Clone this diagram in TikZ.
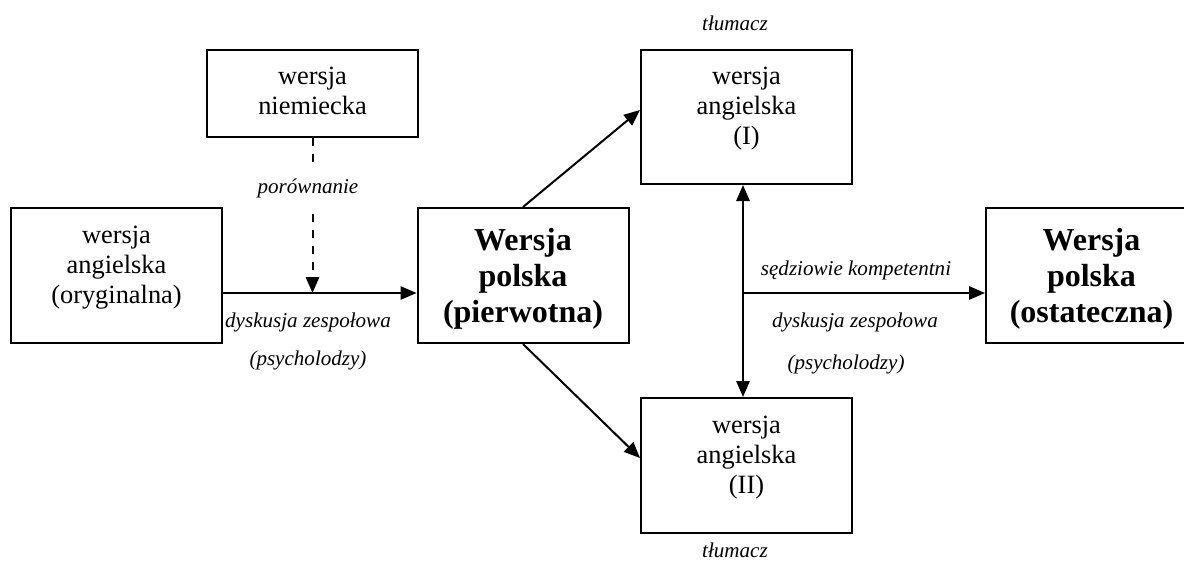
\documentclass[tikz,border=0pt]{standalone}
\usepackage{fontspec}
\setmainfont{Liberation Serif}
\usetikzlibrary{arrows.meta,calc}
\newcommand{\labfont}{\fontsize{15.8pt}{18pt}\selectfont\itshape}
\newcommand{\mkregbox}[2]{\parbox[c][#1][t]{158.25pt}{\centering\fontsize{19.8pt}{22.5pt}\selectfont\rule{0pt}{26.25pt}#2}}
\newcommand{\mkboldbox}[2]{\parbox[c][#1][t]{158.25pt}{\centering\fontsize{24pt}{27pt}\selectfont\bfseries\rule{0pt}{31.5pt}#2}}
\begin{document}
\begin{tikzpicture}[x=0.75pt,y=-0.75pt,
  box/.style={draw, line width=1.5pt, inner sep=0pt},
  lab/.style={font=\labfont, inner sep=0pt, anchor=base},
  tipA/.tip={Triangle[length=12pt,width=10pt]},
  arr/.style={line width=1.5pt, -tipA},
  darr/.style={line width=1.5pt, tipA-tipA},
  dash6/.style={line width=1.5pt, dash pattern=on 6pt off 6pt}
]
\useasboundingbox (0,0) rectangle (1184,563);
\fill[white] (0,0) rectangle (1184,563);
\clip (0,0) rectangle (1184,563);

% boxes
\node[box] (niem) at (312.5,93.5) {\mkregbox{65.25pt}{wersja\\niemiecka}};
\node[box] (orig) at (116.5,275.5) {\mkregbox{101.25pt}{wersja\\angielska\\(oryginalna)}};
\node[box] (pier) at (523,275.5) {\mkboldbox{101.25pt}{Wersja\\polska\\(pierwotna)}};
\node[box] (ang1) at (746.5,117) {\mkregbox{100.5pt}{wersja\\angielska\\(I)}};
\node[box] (ang2) at (746.5,465.5) {\mkregbox{101.25pt}{wersja\\angielska\\(II)}};
\node[box] (ost) at (1091.5,275.5) {\mkboldbox{101.25pt}{Wersja\\polska\\(ostateczna)}};

% helper coordinates
\coordinate (mainline) at (0,293);
\coordinate (vline) at (743,0);

% labels
\node[lab] (tl1) at (735,31) {tłumacz};
\node[lab] (tl2) at (735,557) {tłumacz};
\node[lab, inner ysep=11.3pt] (porow) at (308,194) {porównanie};
\node[lab] (dz1) at (308,327) {dyskusja zespołowa};
\node[lab] (ps1) at (308,365) {(psycholodzy)};
\node[lab] (sk) at (856,275) {sędziowie kompetentni};
\node[lab] (dz2) at (855,327) {dyskusja zespołowa};
\node[lab] (ps2) at (846,369) {(psycholodzy)};

% connectors
\draw[dash6] (niem.south) -- (niem.south |- porow.north);
\draw[dash6, -tipA] (niem.south |- porow.south) -- (niem.south |- mainline);
\draw[arr] (orig.east |- mainline) -- (pier.west |- mainline);
\draw[arr] (pier.north) -- ($(ang1.west)+(0,-7)$);
\draw[arr] (pier.south) -- ($(ang2.west)+(0,-7.5)$);
\draw[darr] (ang1.south -| vline) -- (ang2.north -| vline);
\draw[arr] (vline |- mainline) -- (ost.west |- mainline);
\end{tikzpicture}
\end{document}
